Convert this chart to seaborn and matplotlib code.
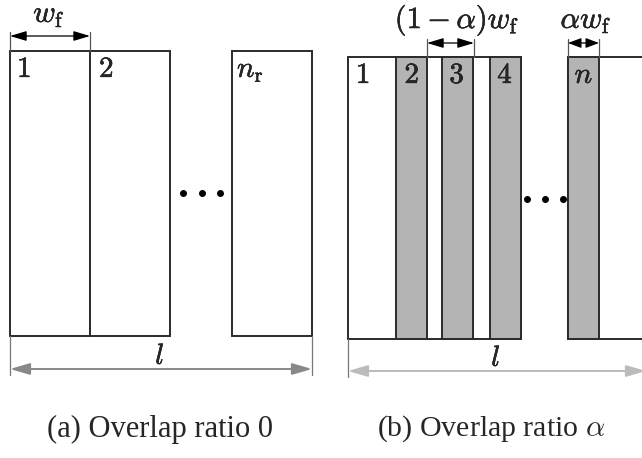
import matplotlib
matplotlib.use("Agg")
import matplotlib.pyplot as plt
import matplotlib.patheffects as pe
import seaborn as sns

sns.set_style("white")
plt.rcParams["mathtext.fontset"] = "cm"
plt.rcParams["font.family"] = ["Liberation Serif", "DejaVu Serif"]

# diagram geometry (pixel units of the 642x458 canvas)
top_a, bot_a = 51, 336
left_starts = [10, 90, 232]
left_labels = ["$1$", "$2$", "$n_{\\mathrm{r}}$"]
w_left = 80

top_b, bot_b = 57, 339
w_right = 78
alpha_w = 31
gray_starts = [396, 442, 490, 568]
right_labels = ["$1$", "$2$", "$3$", "$4$", "$n$"]
label_x_right = [363, 412, 457, 505, 584]

line_c = "#2b2b2b"
gray = "#b4b4b4"
bold = [pe.withStroke(linewidth=0.35, foreground="black")]

fig = plt.figure(figsize=(6.42, 4.58), dpi=100)
ax = fig.add_axes([0, 0, 1, 1])
ax.set_xlim(0, 642)
ax.set_ylim(458, 0)
ax.axis("off")


def dim_arrow(x0, x1, y, color, lw, hl, hw):
    ax.annotate("", xy=(x0, y), xytext=(x1, y),
                arrowprops=dict(arrowstyle=f"<|-|>,head_length={hl},head_width={hw}",
                                color=color, lw=lw, shrinkA=0, shrinkB=0))


# (a) non-overlapping windows
ax.bar(left_starts, bot_a - top_a, width=w_left, bottom=top_a, align="edge",
       color="white", edgecolor=line_c, linewidth=1.4)
for x, lab in zip([17, 99, 237], left_labels):
    ax.text(x, 77, lab, fontsize=21, ha="left", va="baseline", path_effects=bold)
ax.plot([183, 202, 220], [193, 193, 193], "o", color="black", ms=4)

# w_f dimension
ax.plot([10, 10], [32, top_a], color="#555555", lw=0.9)
ax.plot([90, 90], [32, top_a], color="#555555", lw=0.9)
dim_arrow(10, 90, 36, "black", 0.9, 1.0, 0.3)
ax.text(49, 22, "$w_{\\mathrm{f}}$", fontsize=22, ha="center", va="baseline", path_effects=bold)

# l dimension (a)
ax.plot([10, 10], [bot_a, 375], color="#777777", lw=0.9)
ax.plot([312, 312], [bot_a, 375], color="#777777", lw=0.9)
dim_arrow(10, 312, 369, "#888888", 1.4, 1.2, 0.35)
ax.text(160, 364, "$l$", fontsize=21, ha="center", va="baseline", path_effects=bold)

# (b) overlapping windows
ax.bar([348], bot_b - top_b, width=521 - 348, bottom=top_b, align="edge",
       color="white", edgecolor=line_c, linewidth=1.4)
ax.bar([568], bot_b - top_b, width=100, bottom=top_b, align="edge",
       color="white", edgecolor=line_c, linewidth=1.4)
ax.bar(gray_starts, bot_b - top_b, width=alpha_w, bottom=top_b, align="edge",
       color=gray, edgecolor=line_c, linewidth=1.4)
for x, lab in zip(label_x_right, right_labels):
    ax.text(x, 83, lab, fontsize=21, ha="center", va="baseline", path_effects=bold)
ax.plot([527, 545, 563], [199, 199, 199], "o", color="black", ms=4)

# (1-alpha) w_f dimension
ax.plot([427, 427], [39, top_b], color="#555555", lw=0.9)
ax.plot([474, 474], [39, top_b], color="#555555", lw=0.9)
dim_arrow(427, 474, 43, "black", 0.9, 1.0, 0.3)
ax.text(457, 28, "$(1-\\alpha)w_{\\mathrm{f}}$", fontsize=22, ha="center", va="baseline",
        path_effects=bold)

# alpha w_f dimension
ax.plot([568, 568], [39, top_b], color="#555555", lw=0.9)
ax.plot([599, 599], [39, top_b], color="#555555", lw=0.9)
dim_arrow(568, 599, 43, "black", 0.9, 0.8, 0.3)
ax.text(586, 28, "$\\alpha w_{\\mathrm{f}}$", fontsize=22, ha="center", va="baseline",
        path_effects=bold)

# l dimension (b)
ax.plot([348, 348], [bot_b, 377], color="#777777", lw=0.9)
dim_arrow(348, 646, 371, "#bbbbbb", 1.4, 1.2, 0.35)
ax.text(496, 366, "$l$", fontsize=21, ha="center", va="baseline", path_effects=bold)

# captions
ax.text(160, 429, "(a) Overlap ratio 0", fontsize=22, ha="center", va="center")
ax.text(491, 429, "(b) Overlap ratio $\\alpha$", fontsize=21.5, ha="center", va="center")

fig.savefig("out.png", dpi=100)
